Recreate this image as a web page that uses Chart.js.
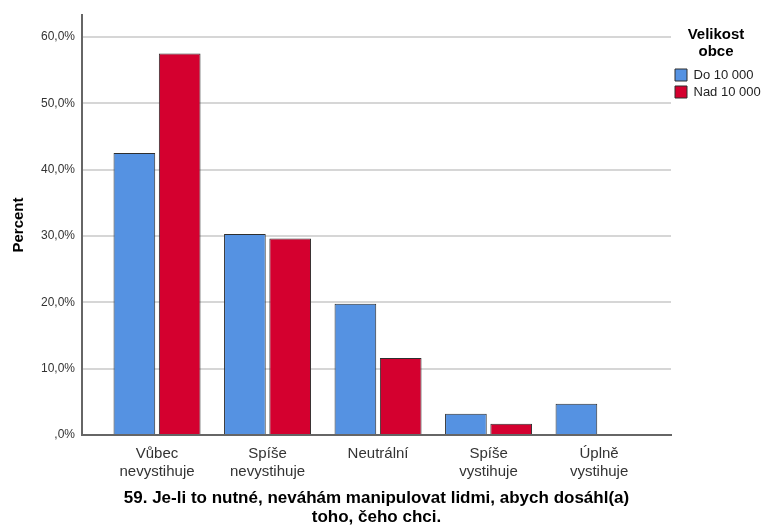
<!DOCTYPE html>
<html>
<head>
<meta charset="utf-8">
<script src="https://cdn.jsdelivr.net/npm/chart.js@4/dist/chart.umd.min.js"></script>
<style>
  html, body { margin: 0; padding: 0; background: #fff; }
</style>
</head>
<body>
<canvas id="chart" width="761" height="526"></canvas>
<script>
const categories = [
  ['Vůbec', 'nevystihuje'],
  ['Spíše', 'nevystihuje'],
  ['Neutrální'],
  ['Spíše', 'vystihuje'],
  ['Úplně', 'vystihuje']
];
const seriesNames = ['Do 10 000', 'Nad 10 000'];
const doDeset = [42.5, 30.3, 19.8, 3.2, 4.7];
const nadDeset = [57.5, 29.6, 11.6, 1.7, 0.0];
const yTicks = [0, 10, 20, 30, 40, 50, 60];

const toPoints = arr => arr.map((v, i) => ({ x: i, y: v }));
const fmtPct = v => v === 0 ? ',0%' : v.toFixed(1).replace('.', ',') + '%';

Chart.defaults.font.family = '"Liberation Sans", Arial, sans-serif';

new Chart(document.getElementById('chart'), {
  type: 'bar',
  data: {
    datasets: [
      { label: seriesNames[0], data: toPoints(doDeset), backgroundColor: '#5592e2', borderColor: '#2e2e2e', borderWidth: 1 },
      { label: seriesNames[1], data: toPoints(nadDeset), backgroundColor: '#d4002f', borderColor: '#2e2e2e', borderWidth: 1 }
    ]
  },
  options: {
    responsive: false,
    animation: false,
    categoryPercentage: 0.82,
    barPercentage: 0.92,
    layout: { padding: { top: 15, right: 0, bottom: 0, left: 0 } },
    plugins: {
      tooltip: { enabled: false },
      legend: {
        position: 'right',
        align: 'start',
        maxWidth: 90,
        title: {
          display: true,
          text: ['Velikost', 'obce'],
          color: '#000',
          font: { size: 15, weight: 'bold', lineHeight: 1.15 },
          padding: { top: 12.5, bottom: 19.75 }
        },
        labels: {
          boxWidth: 12,
          boxHeight: 12,
          padding: 4,
          color: '#222',
          font: { size: 13 }
        }
      }
    },
    scales: {
      x: {
        type: 'linear',
        offset: false,
        min: -0.679,
        max: 4.651,
        afterFit: s => { s.height = 91; },
        grid: { display: false, drawTicks: false },
        border: { display: true, color: '#666', width: 2 },
        ticks: {
          stepSize: 1,
          includeBounds: false,
          autoSkip: false,
          maxRotation: 0,
          padding: 10,
          color: '#333',
          font: { size: 15 },
          callback: v => Number.isInteger(v) ? categories[v] : ''
        },
        title: {
          display: true,
          text: ['59. Je-li to nutné, neváhám manipulovat lidmi, abych dosáhl(a)', 'toho, čeho chci.'],
          color: '#000',
          font: { size: 17, weight: 'bold', lineHeight: 1.15 },
          padding: { top: 0, bottom: -1.5 }
        }
      },
      y: {
        min: 0,
        max: 63.3,
        afterFit: s => { s.width = 82; },
        afterBuildTicks: s => { s.ticks = yTicks.map(v => ({ value: v })); },
        grid: { color: '#d6d6d6', lineWidth: 2, drawTicks: false },
        border: { display: true, color: '#666', width: 2 },
        ticks: {
          padding: 7,
          color: '#333',
          font: { size: 12 },
          callback: v => fmtPct(v)
        },
        title: {
          display: true,
          text: 'Percent',
          color: '#000',
          font: { size: 15, weight: 'bold' },
          padding: { top: 9.5, bottom: 0 }
        }
      }
    }
  }
});
</script>
</body>
</html>
